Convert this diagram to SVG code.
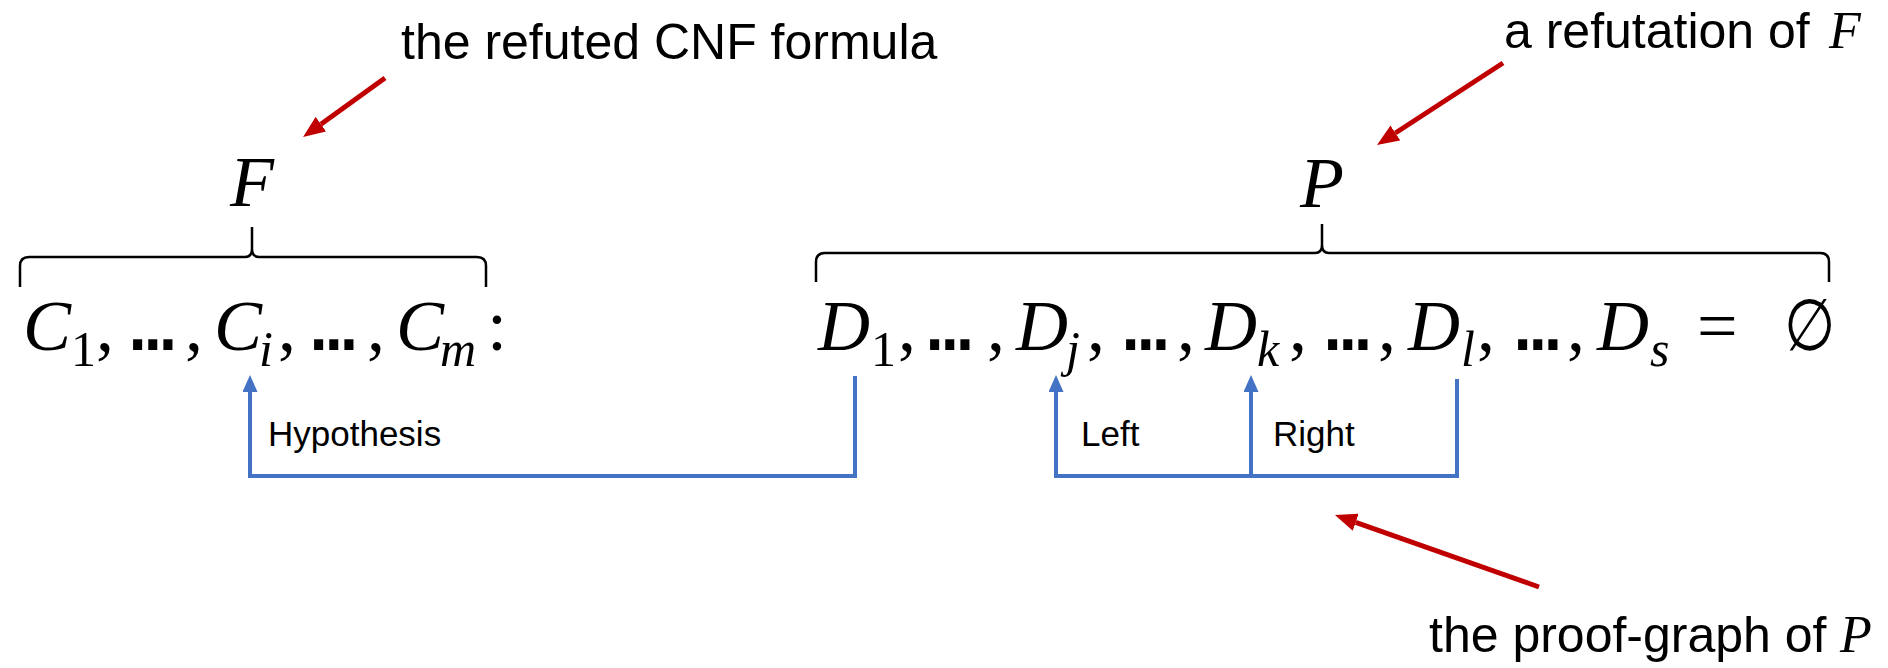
<svg xmlns="http://www.w3.org/2000/svg" width="1888" height="668" viewBox="0 0 1888 668">
<style>
.lbl{font-family:"Liberation Sans",Arial,sans-serif;fill:#000}
.big{font-size:50px}
.sm{font-size:35px}
.m{font-family:"Liberation Serif","DejaVu Serif",serif;font-style:italic;fill:#000;font-size:72px}
.up{font-style:normal}
.sub{font-size:50px}
.ell{font-family:"Liberation Mono",monospace;font-style:normal;font-weight:bold}
.brace{fill:none;stroke:#000;stroke-width:2.5}
.blue{fill:none;stroke:#4472C4;stroke-width:4;stroke-linejoin:miter}
.red{fill:none;stroke:#C00000;stroke-width:5}
</style>
<defs>
<marker id="ab" markerUnits="userSpaceOnUse" markerWidth="17" markerHeight="15" viewBox="0 0 17 15" refX="0" refY="7.5" orient="auto"><path d="M0,0 L17,7.5 L0,15 z" fill="#4472C4"/></marker>
<marker id="ar" markerUnits="userSpaceOnUse" markerWidth="22" markerHeight="18" viewBox="0 0 22 18" refX="0" refY="9" orient="auto"><path d="M0,0 L22,9 L0,18 z" fill="#C00000"/></marker>
</defs>

<g id="label-cnf"><text class="lbl big" x="401" y="59">the refuted CNF formula</text></g>
<g id="label-refutation"><text class="lbl big" x="1504" y="48">a refutation of <tspan class="m" style="font-size:52px" x="1829">F</tspan></text></g>
<g id="label-proofgraph"><text class="lbl big" x="1429" y="652">the proof-graph of <tspan class="m" style="font-size:52px" x="1840">P</tspan></text></g>

<g id="node-F">
<text class="m" x="252" y="206" text-anchor="middle">F</text>
<path class="brace" d="M20,287 L20,266 Q20,257 29,257 L245,257 Q252,257 252,249 L252,227 M252,249 Q252,257 259,257 L477,257 Q486,257 486,266 L486,287"/>
</g>
<g id="node-P">
<text class="m" x="1322" y="207" text-anchor="middle">P</text>
<path class="brace" d="M816,282 L816,262 Q816,253 825,253 L1315,253 Q1322,253 1322,245 L1322,224 M1322,245 Q1322,253 1329,253 L1820,253 Q1829,253 1829,262 L1829,282"/>
</g>

<g id="node-clauses">
<text class="m" y="350"><tspan x="23">C</tspan><tspan class="up sub" x="71" y="366">1</tspan><tspan class="up" x="96" y="350">,</tspan><tspan class="ell" x="131">…</tspan><tspan class="up" x="185">,</tspan><tspan x="214">C</tspan><tspan class="sub" x="259" y="366">i</tspan><tspan class="up" x="278" y="350">,</tspan><tspan class="ell" x="312">…</tspan><tspan class="up" x="367">,</tspan><tspan x="396">C</tspan><tspan class="sub" x="440" y="366">m</tspan><tspan class="up" x="487" y="350">:</tspan></text>
</g>

<g id="node-derivation">
<text class="m" y="350"><tspan x="818">D</tspan><tspan class="up sub" x="871" y="366">1</tspan><tspan class="up" x="898" y="350">,</tspan><tspan class="ell" x="928">…</tspan><tspan class="up" x="987">,</tspan><tspan x="1016">D</tspan><tspan class="sub" x="1066" y="366">j</tspan><tspan class="up" x="1087" y="350">,</tspan><tspan class="ell" x="1124">…</tspan><tspan class="up" x="1177">,</tspan><tspan x="1205">D</tspan><tspan class="sub" x="1257" y="366">k</tspan><tspan class="up" x="1289" y="350">,</tspan><tspan class="ell" x="1326">…</tspan><tspan class="up" x="1378">,</tspan><tspan x="1408">D</tspan><tspan class="sub" x="1461" y="366">l</tspan><tspan class="up" x="1477" y="350">,</tspan><tspan class="ell" x="1516">…</tspan><tspan class="up" x="1567">,</tspan><tspan x="1597">D</tspan><tspan class="sub" x="1650" y="366">s</tspan><tspan class="up" x="1697" y="350">=</tspan></text>
<text class="m up" transform="translate(1784,350) scale(0.82,1)">∅</text>
</g>

<g id="connectors">
<path class="blue" d="M855,376 V476 H250 V392" marker-end="url(#ab)"/>
<path class="blue" d="M1457,379 V476 H1056 V392" marker-end="url(#ab)"/>
<path class="blue" d="M1251,476 V392" marker-end="url(#ab)"/>
<path class="red" d="M385,78 L320.9,124.2" marker-end="url(#ar)"/>
<path class="red" d="M1503,63 L1395.4,133" marker-end="url(#ar)"/>
<path class="red" d="M1539,587 L1355.7,522.3" marker-end="url(#ar)"/>
</g>

<g id="edge-labels">
<text class="lbl sm" x="268" y="446">Hypothesis</text>
<text class="lbl sm" x="1081" y="446">Left</text>
<text class="lbl sm" x="1273" y="446">Right</text>
</g>
</svg>
